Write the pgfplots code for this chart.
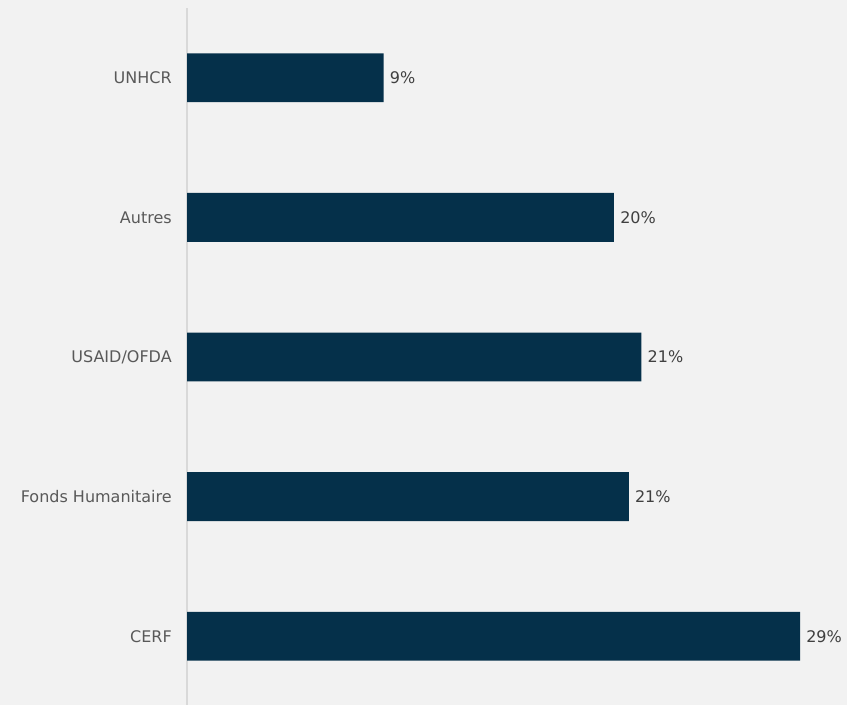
\documentclass[border=0pt]{standalone}
\usepackage{pgfplots}
\pgfplotsset{compat=1.18}
\usepackage{pgfplotstable}
\usepackage{fontspec}
\setmainfont{DejaVu Sans}

\definecolor{bg}{RGB}{242,242,242}
\definecolor{barc}{RGB}{5,48,74}
\definecolor{axc}{RGB}{217,217,217}
\definecolor{lblc}{RGB}{89,89,89}
\definecolor{valc}{RGB}{64,64,64}

% y = position (0 = bottom), x = share in percent, lab = printed value
\pgfplotstableread{
y x lab
0 29.0 29
1 20.9 21
2 21.5 21
3 20.2 20
4 9.3 9
}\shares

\begin{document}
\begin{tikzpicture}[x=1pt,y=1pt]
\fill[bg] (0,0) rectangle (635.25,528.75);
\useasboundingbox (0,0) rectangle (635.25,528.75);
\begin{axis}[
  at={(140.25pt,-0.75pt)}, anchor=south west,
  scale only axis, width=459.75pt, height=523.5pt,
  xmin=0, xmax=29, ymin=-0.5, ymax=4.5,
  xbar, bar width=0.35,
  axis x line=none,
  axis y line*=left,
  y axis line style={draw=axc, line width=1pt, -},
  ytick={0,1,2,3,4},
  yticklabels={CERF,Fonds Humanitaire,USAID/OFDA,Autres,UNHCR},
  ytick style={draw=none},
  yticklabel style={font=\fontsize{12}{14}\selectfont, text=lblc, inner sep=0pt, xshift=-7pt},
  point meta=explicit symbolic,
  nodes near coords={\pgfplotspointmeta\%},
  every node near coord/.append style={font=\fontsize{12}{14}\selectfont, text=valc, anchor=west, inner sep=0pt, xshift=4.5pt},
  clip=false,
]
\addplot[fill=barc, draw=none] table[x=x, y=y, meta=lab] {\shares};
\end{axis}
\end{tikzpicture}
\end{document}
